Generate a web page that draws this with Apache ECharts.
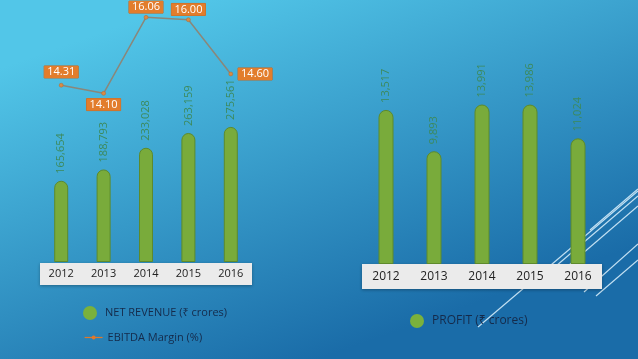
<!DOCTYPE html>
<html><head><meta charset="utf-8">
<script src="https://cdn.jsdelivr.net/npm/echarts@6/dist/echarts.min.js"></script>
<style>html,body{margin:0;padding:0;}#c{width:638px;height:359px;}</style>
</head><body><div id="c"></div>
<script>
var years = ['2012','2013','2014','2015','2016'];
var netRevenue = [165654, 188793, 233028, 263159, 275561];
var ebitdaMargin = [14.31, 14.10, 16.06, 16.00, 14.60];
var profit = [13517, 9893, 13991, 13986, 11024];
var marginLabelPos = ['top','bottom','top','top','right'];
var marginLabelDist = [5, 3, 2, 2, 5];

var FONT = '"Open Sans", "Noto Sans", sans-serif';
var chart = echarts.init(document.getElementById('c'));
var fmt = function(p){ return p.value.toLocaleString('en-US'); };
function barLabel(){ return {show:true, position:'top', rotate:90, align:'left', verticalAlign:'middle', distance:7,
  color:'#3d8a5c', fontSize:11, fontFamily:FONT, formatter:fmt}; }
function barStyle(){ return {color:'#79ab3b', borderColor:'#5d8a2c', borderWidth:1, borderRadius:[8,8,0,0]}; }

var deco = [];
var lines = [[478,327,638,191],[556,266,638,196],[561,272,638,206],[590,230,638,189],[584,292,638,244],[596,296,638,260]];
lines.forEach(function(l){ deco.push({type:'line', silent:true, z:0, shape:{x1:l[0],y1:l[1],x2:l[2],y2:l[3]}, style:{stroke:'rgba(225,245,255,0.85)', lineWidth:1.2}}); });
deco.push({type:'rect', z:1, shape:{x:40,y:263,width:212,height:22}, style:{fill:'#ebebeb', shadowBlur:3, shadowColor:'rgba(0,0,0,0.3)', shadowOffsetY:1}});
deco.push({type:'rect', z:1, shape:{x:362,y:264,width:240,height:25}, style:{fill:'#ebebeb', shadowBlur:3, shadowColor:'rgba(0,0,0,0.3)', shadowOffsetY:1}});

chart.setOption({
  backgroundColor: {type:'linear', x:0.3, y:0, x2:0.5, y2:1, colorStops:[{offset:0,color:'#52c6e8'},{offset:1,color:'#1a6ca8'}]},
  textStyle:{fontFamily:FONT},
  animation:false,
  graphic: deco,
  grid:[{left:40, width:212, top:10, height:252}, {left:362, width:240, top:10, height:254}],
  xAxis:[
    {type:'category', gridIndex:0, data:years, axisLine:{show:false}, axisTick:{show:false}, z:5,
     axisLabel:{margin:6, color:'#222', fontSize:11, fontFamily:FONT}},
    {type:'category', gridIndex:1, data:years, axisLine:{show:false}, axisTick:{show:false}, z:5,
     axisLabel:{margin:7, color:'#222', fontSize:12, fontFamily:FONT}}
  ],
  yAxis:[
    {type:'value', gridIndex:0, min:0, max:514000, show:false},
    {type:'value', gridIndex:0, min:9.75, max:16.25, show:false},
    {type:'value', gridIndex:1, min:0, max:22280, show:false}
  ],
  legend:[
    {orient:'vertical', left:78, top:301, itemWidth:20, itemHeight:14,
     textStyle:{color:'#152a4a', fontSize:11, fontFamily:FONT},
     data:[{name:'NET REVENUE (₹ crores)', icon:'circle', itemStyle:{color:'#7ab13c', borderWidth:0}}]},
    {orient:'vertical', left:79, top:327, itemWidth:18, itemHeight:5,
     textStyle:{color:'#152a4a', fontSize:11, fontFamily:FONT},
     data:[{name:'EBITDA Margin (%)', itemStyle:{color:'#e0782a', borderWidth:0}, lineStyle:{color:'#e0782a', width:1.2}}]},
    {orient:'vertical', left:405, top:309, itemWidth:20, itemHeight:14,
     textStyle:{color:'#152a4a', fontSize:12, fontFamily:FONT},
     data:[{name:'PROFIT (₹ crores)', icon:'circle', itemStyle:{color:'#7ab13c', borderWidth:0}}]}
  ],
  series:[
    {name:'NET REVENUE (₹ crores)', type:'bar', xAxisIndex:0, yAxisIndex:0, data:netRevenue, barWidth:14,
     itemStyle:barStyle(), label:barLabel(), z:3},
    {name:'EBITDA Margin (%)', type:'line', xAxisIndex:0, yAxisIndex:1, z:4,
     data:ebitdaMargin.map(function(v,i){ return {value:v, label:{position:marginLabelPos[i], distance:marginLabelDist[i]}}; }),
     symbol:'circle', symbolSize:4, itemStyle:{color:'#d98a45', borderColor:'#b06a30', borderWidth:0.5},
     lineStyle:{color:'#8a877a', width:1.5},
     label:{show:true, color:'#fff', backgroundColor:'#e27d2c', borderColor:'#c8671f', borderWidth:0.5,
       padding:[0,3,0,3], lineHeight:12, fontSize:11, fontFamily:FONT,
       formatter:function(p){ return p.value.toFixed(2); }}},
    {name:'PROFIT (₹ crores)', type:'bar', xAxisIndex:1, yAxisIndex:2, data:profit, barWidth:15,
     itemStyle:barStyle(), label:barLabel(), z:3}
  ]
});
</script></body></html>
